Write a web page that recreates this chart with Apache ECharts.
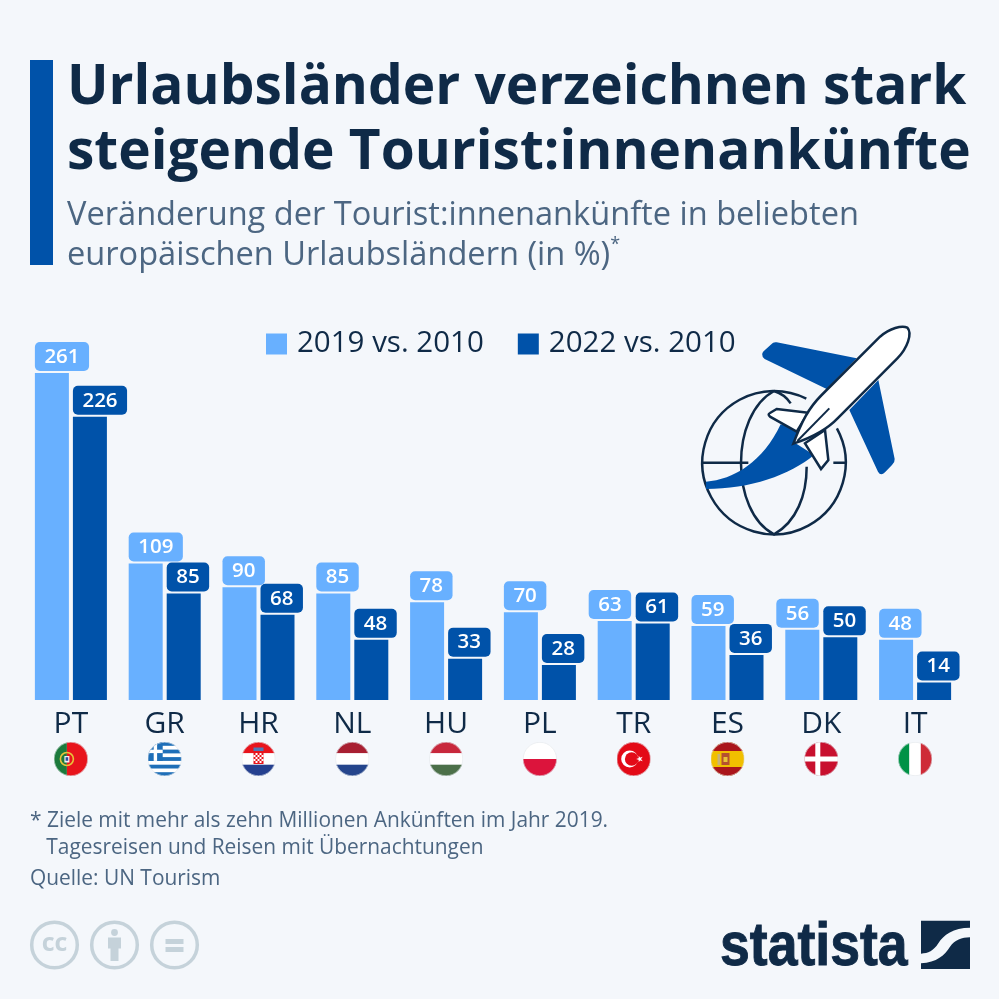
<!DOCTYPE html>
<html>
<head>
<meta charset="utf-8">
<style>
  html, body { margin: 0; padding: 0; background: #f4f7fb; }
  #chart { width: 999px; height: 999px; }
</style>
<script src="https://cdn.jsdelivr.net/npm/echarts@6/dist/echarts.min.js"></script>
</head>
<body>
<div id="chart"></div>
<script>
const categories = ["PT", "GR", "HR", "NL", "HU", "PL", "TR", "ES", "DK", "IT"];
const values2019 = [261, 109, 90, 85, 78, 70, 63, 59, 56, 48];
const values2022 = [226, 85, 68, 48, 33, 28, 61, 36, 50, 14];
const seriesNames = ["2019 vs. 2010", "2022 vs. 2010"];
// these light labels sit right-aligned so they clear the dark neighbour
const shiftedLabels = ["TR", "DK"];

const LIGHT = "#68b0ff";
const DARK = "#0052a9";
const INK = "#0f2a47";
const SLATE = "#4c6682";
const GREY = "#c5d2da";
const FONT = "'Open Sans', sans-serif";

// flags are little svgs, cut to a circle
function flagSvg(body) {
  const svg =
    '<svg xmlns="http://www.w3.org/2000/svg" width="102" height="102" viewBox="0 0 34 34">' +
    '<defs><clipPath id="c"><circle cx="17" cy="17" r="17"/></clipPath></defs>' +
    '<g clip-path="url(#c)">' + body + "</g>" +
    '<circle cx="17" cy="17" r="16.7" fill="none" stroke="#dfe4ea" stroke-width=".6"/></svg>';
  return "data:image/svg+xml;charset=utf-8," + encodeURIComponent(svg);
}
function r(x, y, w, h, fill) {
  return `<rect x="${x}" y="${y}" width="${w}" height="${h}" fill="${fill}"/>`;
}
const flags = {
  PT: r(0, 0, 13, 34, "#1c7a3c") + r(13, 0, 21, 34, "#e8141c") +
    '<circle cx="13" cy="17" r="6.5" fill="none" stroke="#e8c33a" stroke-width="1.6"/>' +
    r(10.5, 14, 5, 6.5, "#f2f2f2") + r(11.7, 15.2, 2.6, 3.6, "#2c4f9e"),
  GR: r(0, 0, 34, 34, "#fff") + r(0, 0, 34, 3.8, "#1f6fb8") + r(0, 7.6, 34, 3.8, "#1f6fb8") +
    r(0, 15.1, 34, 3.8, "#1f6fb8") + r(0, 22.7, 34, 3.8, "#1f6fb8") + r(0, 30.2, 34, 3.8, "#1f6fb8") +
    r(0, 0, 15, 18.9, "#1f6fb8") + r(6, 0, 3.4, 18.9, "#fff") + r(0, 7.7, 15, 3.4, "#fff"),
  HR: r(0, 0, 34, 11.3, "#e8141c") + r(0, 11.3, 34, 11.4, "#fff") + r(0, 22.7, 34, 11.3, "#25408f") +
    r(12, 9, 10, 13, "#e8141c") + r(14, 11, 2, 2, "#fff") + r(18, 11, 2, 2, "#fff") + r(12, 13, 2, 2, "#fff") +
    r(16, 13, 2, 2, "#fff") + r(20, 13, 2, 2, "#fff") + r(14, 15, 2, 2, "#fff") + r(18, 15, 2, 2, "#fff") +
    r(12, 17, 2, 2, "#fff") + r(16, 17, 2, 2, "#fff") + r(20, 17, 2, 2, "#fff") + r(14, 19, 2, 2, "#fff") +
    r(18, 19, 2, 2, "#fff") + r(12, 5.5, 10, 3.5, "#4f79b5"),
  NL: r(0, 0, 34, 11.3, "#a81f31") + r(0, 11.3, 34, 11.4, "#fff") + r(0, 22.7, 34, 11.3, "#25458c"),
  HU: r(0, 0, 34, 11.3, "#c8283c") + r(0, 11.3, 34, 11.4, "#fff") + r(0, 22.7, 34, 11.3, "#4c7049"),
  PL: r(0, 0, 34, 17, "#fff") + r(0, 17, 34, 17, "#dc143c"),
  TR: r(0, 0, 34, 34, "#e30a17") + '<circle cx="13" cy="17" r="8.5" fill="#fff"/><circle cx="15" cy="17" r="6.8" fill="#e30a17"/>' +
    '<path d="M19.5 17l6.5-2.2-4 5.4v-6.4l4 5.4z" fill="#fff"/>',
  ES: r(0, 0, 34, 34, "#f1bf00") + r(0, 0, 34, 9, "#aa151b") + r(0, 25, 34, 9, "#aa151b") +
    r(7, 12, 2.5, 11, "#c8b27a") + r(11, 11, 8, 12, "#b5502f") + r(13, 15, 4, 5, "#e8c33a"),
  DK: r(0, 0, 34, 34, "#c8102e") + r(11, 0, 5, 34, "#fff") + r(0, 14.5, 34, 5, "#fff"),
  IT: r(0, 0, 11.3, 34, "#009246") + r(11.3, 0, 11.4, 34, "#fff") + r(22.7, 0, 11.3, 34, "#ce2b37"),
};

const flagRich = {};
categories.forEach((c) => {
  flagRich[c] = { width: 34, height: 34, backgroundColor: { image: flagSvg(flags[c]) } };
});

function barLabel(color) {
  return {
    show: true,
    position: [0, -31],
    align: "left",
    verticalAlign: "top",
    color: "#fff",
    fontFamily: FONT,
    fontSize: 20.5,
    fontWeight: 600,
    lineHeight: 28,
    backgroundColor: color,
    borderRadius: 5,
    padding: [1, 9.5, 0, 9.5],
  };
}

// graphic has no plain path element, so each outline gets registered as a shape
let shapeCount = 0;
function tracedPath(d, style) {
  const name = "traced" + shapeCount++;
  echarts.graphic.registerShape(name, echarts.graphic.extendPath(d, {}));
  return { type: name, style: style };
}
const lineStyle = { fill: "none", stroke: INK, lineWidth: 7.5 };
const whiteStyle = { fill: "#fff", stroke: INK, lineWidth: 7.5 };

const myChart = echarts.init(document.getElementById("chart"), null, { renderer: "canvas" });

const option = {
  animation: false,
  backgroundColor: "#f4f7fb",
  title: [
    {
      text: "Urlaubsländer verzeichnen stark\nsteigende Tourist:innenankünfte",
      left: 67,
      top: 56,
      padding: 0,
      textStyle: { fontFamily: FONT, fontSize: 55, fontWeight: 700, color: INK, lineHeight: 65 },
    },
    {
      text: "Veränderung der Tourist:innenankünfte in beliebten\neuropäischen Urlaubsländern (in %){s|*}",
      left: 67,
      top: 196,
      padding: 0,
      textStyle: {
        fontFamily: FONT, fontSize: 32.6, fontWeight: 400, color: SLATE, lineHeight: 40,
        rich: { s: { fontFamily: FONT, fontSize: 18, color: SLATE, verticalAlign: "top", lineHeight: 30 } },
      },
    },
    {
      text: "* Ziele mit mehr als zehn Millionen Ankünften im Jahr 2019.\n   Tagesreisen und Reisen mit Übernachtungen",
      left: 30,
      top: 808,
      padding: 0,
      textStyle: { fontFamily: FONT, fontSize: 20.9, fontWeight: 400, color: SLATE, lineHeight: 27 },
    },
    {
      text: "Quelle: UN Tourism",
      left: 30,
      top: 866,
      padding: 0,
      textStyle: { fontFamily: FONT, fontSize: 20.9, fontWeight: 400, color: SLATE, lineHeight: 27 },
    },
  ],
  legend: {
    left: 266,
    top: 329,
    padding: 0,
    itemWidth: 21,
    itemHeight: 21,
    itemGap: 34,
    icon: "rect",
    data: seriesNames,
    textStyle: { fontFamily: FONT, fontSize: 29.5, lineHeight: 30, color: INK, padding: [0, 0, 0, 5] },
  },
  grid: { left: 24, top: 324.1, width: 938, height: 375.9, containLabel: false },
  xAxis: {
    type: "category",
    data: categories,
    axisLine: { show: false },
    axisTick: { show: false },
    axisLabel: {
      interval: 0,
      margin: 10,
      formatter: (v) => `{code|${v}}\n{${v}|}`,
      rich: {
        code: { fontFamily: FONT, fontSize: 30, color: INK, lineHeight: 32, padding: [0, 0, 4, 0] },
        ...flagRich,
      },
    },
  },
  yAxis: { type: "value", min: 0, max: 300, show: false },
  series: [
    {
      name: seriesNames[0],
      type: "bar",
      data: values2019.map((v, i) =>
        shiftedLabels.includes(categories[i]) ? { value: v, label: { position: [-9, -31] } } : v
      ),
      barWidth: 34,
      barGap: "11.8%",
      itemStyle: { color: LIGHT },
      label: barLabel(LIGHT),
    },
    {
      name: seriesNames[1],
      type: "bar",
      data: values2022,
      barWidth: 34,
      itemStyle: { color: DARK },
      label: barLabel(DARK),
    },
  ],
  graphic: [
    { type: "rect", shape: { x: 30, y: 60, width: 23, height: 205 }, style: { fill: DARK } },
    // plane over the globe, traced in zoom coordinates
    {
      type: "group",
      x: 690,
      y: 315,
      scaleX: 1 / 3,
      scaleY: 1 / 3,
      children: [
        { type: "arc", shape: { cx: 252, cy: 443, r: 215, startAngle: -0.5, endAngle: 5.18, clockwise: true }, style: lineStyle },
        tracedPath("M252 228C120 300 120 590 252 658C320 620 350 540 350 455", lineStyle),
        tracedPath("M252 228C275 235 292 250 302 265", lineStyle),
        tracedPath("M36 443L175 443M430 443L468 443", lineStyle),
        tracedPath("M48 500C130 495 220 440 272 328L350 350L312 382L372 420C300 480 180 522 48 522Z", { fill: DARK }),
        tracedPath("M260 82L500 130L410 222L224 132Q208 118 224 106L244 88Q250 80 260 82Z", { fill: DARK }),
        tracedPath("M565 195L614 432Q615 442 606 450L585 472Q572 484 564 470L478 285Z", { fill: DARK }),
        tracedPath("M260 282L355 293L320 350L240 305Q232 298 240 294Z", whiteStyle),
        tracedPath("M345 385L405 345L415 435L393 462L345 385Z", whiteStyle),
        tracedPath("M310 386C335 320 355 280 395 240L570 65C600 40 635 30 652 38C668 55 652 100 622 130L445 308C410 345 360 370 310 386Z", whiteStyle),
        tracedPath("M322 378L418 280", { fill: "none", stroke: INK, lineWidth: 6 }),
      ],
    },
    // licence badges
    { type: "circle", shape: { cx: 54.5, cy: 945, r: 22.8 }, style: { fill: "none", stroke: GREY, lineWidth: 3.5 } },
    { type: "circle", shape: { cx: 114.5, cy: 945, r: 22.8 }, style: { fill: "none", stroke: GREY, lineWidth: 3.5 } },
    { type: "circle", shape: { cx: 174.5, cy: 945, r: 22.8 }, style: { fill: "none", stroke: GREY, lineWidth: 3.5 } },
    { type: "text", x: 54.5, y: 944, style: { text: "cc", fill: GREY, font: "700 25px " + FONT, align: "center", verticalAlign: "middle" } },
    { type: "circle", shape: { cx: 114.5, cy: 932.5, r: 3.4 }, style: { fill: GREY } },
    { type: "rect", shape: { x: 108, y: 937.5, width: 13, height: 11 }, style: { fill: GREY } },
    { type: "rect", shape: { x: 110.5, y: 945, width: 8, height: 16 }, style: { fill: GREY } },
    { type: "rect", shape: { x: 165.5, y: 939, width: 18, height: 5 }, style: { fill: GREY } },
    { type: "rect", shape: { x: 165.5, y: 947, width: 18, height: 5 }, style: { fill: GREY } },
    // statista mark
    { type: "text", x: 720, y: 948, scaleX: 0.864, style: { text: "statista", fill: INK, stroke: INK, lineWidth: 1, font: "700 62px 'Liberation Sans', sans-serif", align: "left", verticalAlign: "middle" } },
    {
      type: "group",
      x: 710,
      y: 905,
      scaleX: 1 / 3,
      scaleY: 1 / 3,
      children: [
        tracedPath("M633 47L780 47L780 68C730 68 700 90 685 115C670 138 655 145 633 146Z", { fill: INK }),
        tracedPath("M780 97L780 192L633 192L633 175C680 172 705 150 720 125C735 105 755 97 780 97Z", { fill: INK }),
      ],
    },
  ],
};

myChart.setOption(option);
</script>
</body>
</html>
